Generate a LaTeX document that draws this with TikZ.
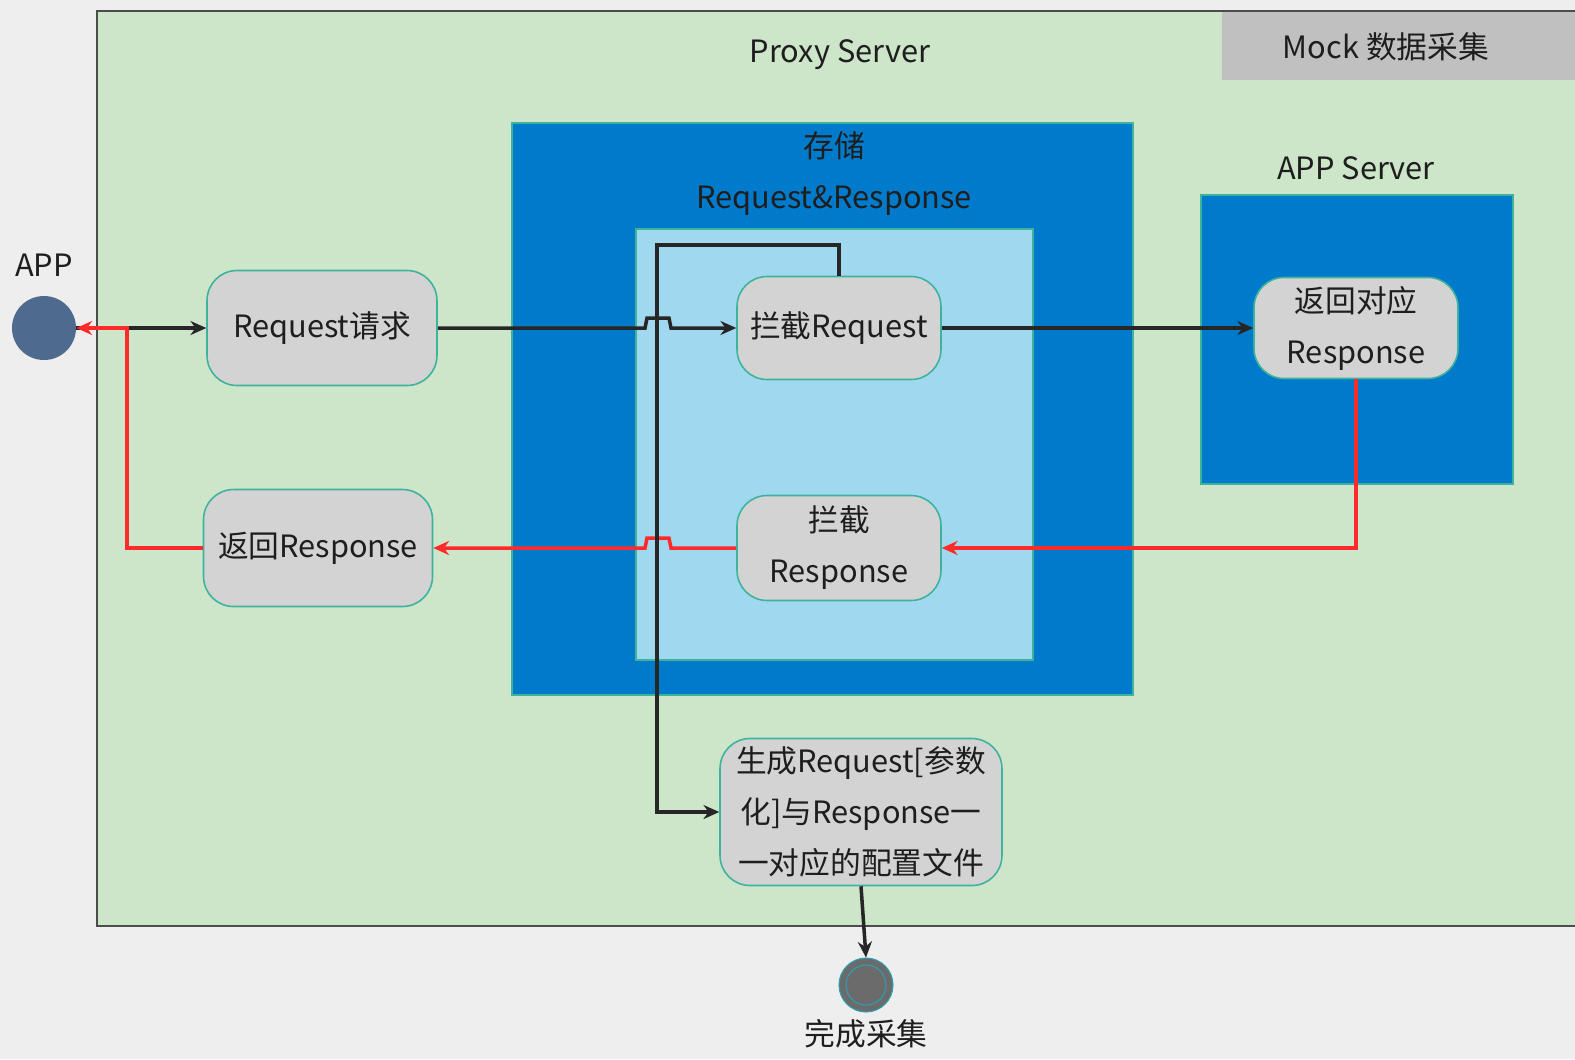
\documentclass[tikz,border=0pt]{standalone}
\usepackage{fontspec}
\setmainfont{Noto Sans CJK SC}
\usetikzlibrary{arrows.meta,positioning}

\definecolor{bgc}{HTML}{EEEEEE}
\definecolor{proxygreen}{HTML}{CDE5C8}
\definecolor{storeblue}{HTML}{007BCB}
\definecolor{innerblue}{HTML}{A0D8EF}
\definecolor{nodegray}{HTML}{D3D3D3}
\definecolor{labelgray}{HTML}{C0C0C0}
\definecolor{edgeteal}{HTML}{3DB39E}
\definecolor{appblue}{HTML}{4E6B8E}
\definecolor{donegray}{HTML}{6B6B6B}
\definecolor{ringteal}{HTML}{2AA0B0}
\definecolor{flowred}{HTML}{FF2A2A}
\definecolor{txt}{HTML}{1E1E1E}

\tikzset{
  stepbox/.style={draw=edgeteal, fill=nodegray, rounded corners=0.6cm,
    line width=0.9pt, align=center, text=txt, inner sep=0pt,
    font=\fontsize{17.5}{29}\selectfont},
  plain/.style={text=txt, align=center, font=\fontsize{17.5}{29}\selectfont},
  flow/.style={line width=2pt, draw=black!85, -{Stealth[length=9pt,width=8pt]}},
  back/.style={flow, draw=flowred}
}

\begin{document}
\begin{tikzpicture}[x=0.02cm,y=-0.02cm]
  % background and panels
  \fill[bgc] (0,0) rectangle (1575,1059);
  \useasboundingbox (0,0) rectangle (1575,1059);
  \fill[proxygreen] (97,11) rectangle (1575,926);
  \draw[black!70,line width=1pt] (1575,11) -- (97,11) -- (97,926) -- (1575,926);
  \fill[labelgray] (1222,12) rectangle (1575,80);
  \filldraw[fill=storeblue,draw=edgeteal,line width=0.6pt] (512,123) rectangle (1133,695);
  \filldraw[fill=innerblue,draw=edgeteal,line width=0.6pt] (636,229) rectangle (1033,660);
  \filldraw[fill=storeblue,draw=edgeteal,line width=0.6pt] (1201,195) rectangle (1513,484);

  % labels
  \node[plain] (mock) at (1386,47) {Mock 数据采集};
  \node[plain] (proxy) at (840,55) {Proxy Server};
  \node[plain] (store) at (834,174) {存储\\Request\&Response};
  \node[plain] (appsrv) at (1356,168) {APP Server};

  % start and end
  \node[circle, fill=appblue, minimum size=1.28cm, inner sep=0pt] (app) at (44,328) {};
  \node[plain, above=0.25cm of app] (applabel) {APP};
  \node[circle, fill=donegray, draw=ringteal, line width=0.6pt, minimum size=1.08cm, inner sep=0pt] (done) at (866,985) {};
  \draw[ringteal, line width=0.6pt] (done.center) circle (0.4cm);
  \node[plain, below=0.02cm of done] (donelabel) {完成采集};

  % steps
  \node[stepbox, minimum width=4.6cm, minimum height=2.3cm] (req) at (322,328) {Request请求};
  \node[stepbox, minimum width=4.08cm, minimum height=2.06cm] (ireq) at (839,328) {拦截Request};
  \node[stepbox, minimum width=4.08cm, minimum height=2.02cm] (resp) at (1356,328) {返回对应\\Response};
  \node[stepbox, minimum width=4.08cm, minimum height=2.1cm] (iresp) at (839,548) {拦截\\Response};
  \node[stepbox, minimum width=4.58cm, minimum height=2.34cm] (ret) at (318,548) {返回Response};
  \node[stepbox, minimum width=5.64cm, minimum height=2.94cm] (gen) at (861,812) {生成Request[参数\\化]与Response一\\一对应的配置文件};

  % request flow
  \draw[flow] (app.east) -- (req.west);
  \draw[flow] (req.east) -- (645,328) -- (647,318) -- (669,318) -- (671,328) -- (ireq.west);
  \draw[flow] (ireq.east) -- (resp.west);

  % response flow
  \draw[back] (resp.south) |- (iresp.east);
  \draw[back] (iresp.west) -- (671,548) -- (669,538) -- (647,538) -- (645,548) -- (ret.east);
  \draw[back] (ret.west) -- (127,548) -- (127,328) -- (app.east);

  % config output
  \draw[flow] (ireq.north) -- (839,245) -- (657,245) |- (gen.west);
  \draw[flow] (gen.south) -- (done.north);
\end{tikzpicture}
\end{document}
